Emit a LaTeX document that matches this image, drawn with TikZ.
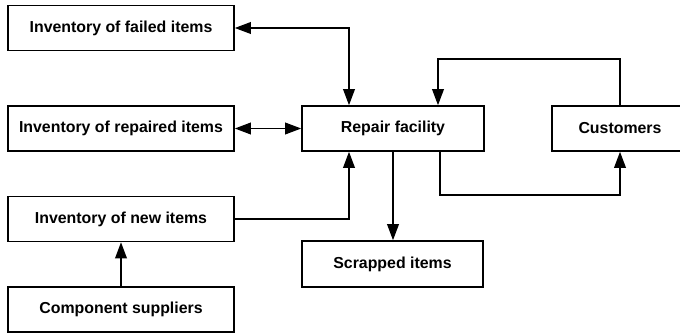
\documentclass[tikz,border=0pt]{standalone}
\usepackage{fontspec}
\setmainfont{Liberation Sans}
\usetikzlibrary{arrows.meta}
\begin{document}
\begin{tikzpicture}[
		box/.style={draw, line width=1.1pt, minimum height=1.125cm, inner sep=0pt, font=\fontsize{11.3}{13}\selectfont\bfseries},
		flow/.style={line width=1.1pt, -{Triangle[length=4mm, width=2.9mm]}},
		twoway/.style={line width=1.1pt, {Triangle[length=4mm, width=2.9mm]}-{Triangle[length=4mm, width=2.9mm]}}]
		\useasboundingbox (0,0) rectangle (17,-8.375);
		\def\lbox{5.65cm};
		\node[box, minimum width=\lbox] (failed) at (3.025,-0.7) {Inventory of failed items};
		\node[box, minimum width=\lbox] (repaired) at (3.025,-3.2125) {Inventory of repaired items};
		\node[box, minimum width=\lbox] (new) at (3.025,-5.475) {Inventory of new items};
		\node[box, minimum width=\lbox] (suppliers) at (3.025,-7.7375) {Component suppliers};
		\node[box, minimum width=4.55cm] (repair) at (9.825,-3.2125) {Repair facility};
		\node[box, minimum width=4.525cm, minimum height=1.15cm] (scrapped) at (9.8125,-6.6) {Scrapped items};
		\node[box, minimum width=3.4cm] (customers) at (15.5,-3.2125) {Customers};
		
		\draw[twoway] (failed.east) -| ([xshift=-1.1cm]repair.north);
		\draw[twoway] (repaired) -- (repair);
		\draw[flow] (new.east) -| ([xshift=-1.1cm]repair.south);
		\draw[flow] (suppliers) -- (new);
		\draw[flow] (repair.south) -- (repair.south |- scrapped.north);
		\draw[flow] ([xshift=1.175cm]repair.south) -- ++(0,-1.075) -| (customers.south);
		\draw[flow] (customers.north) -- ++(0,1.15) -| ([xshift=1.125cm]repair.north);
	\end{tikzpicture}
\end{document}
